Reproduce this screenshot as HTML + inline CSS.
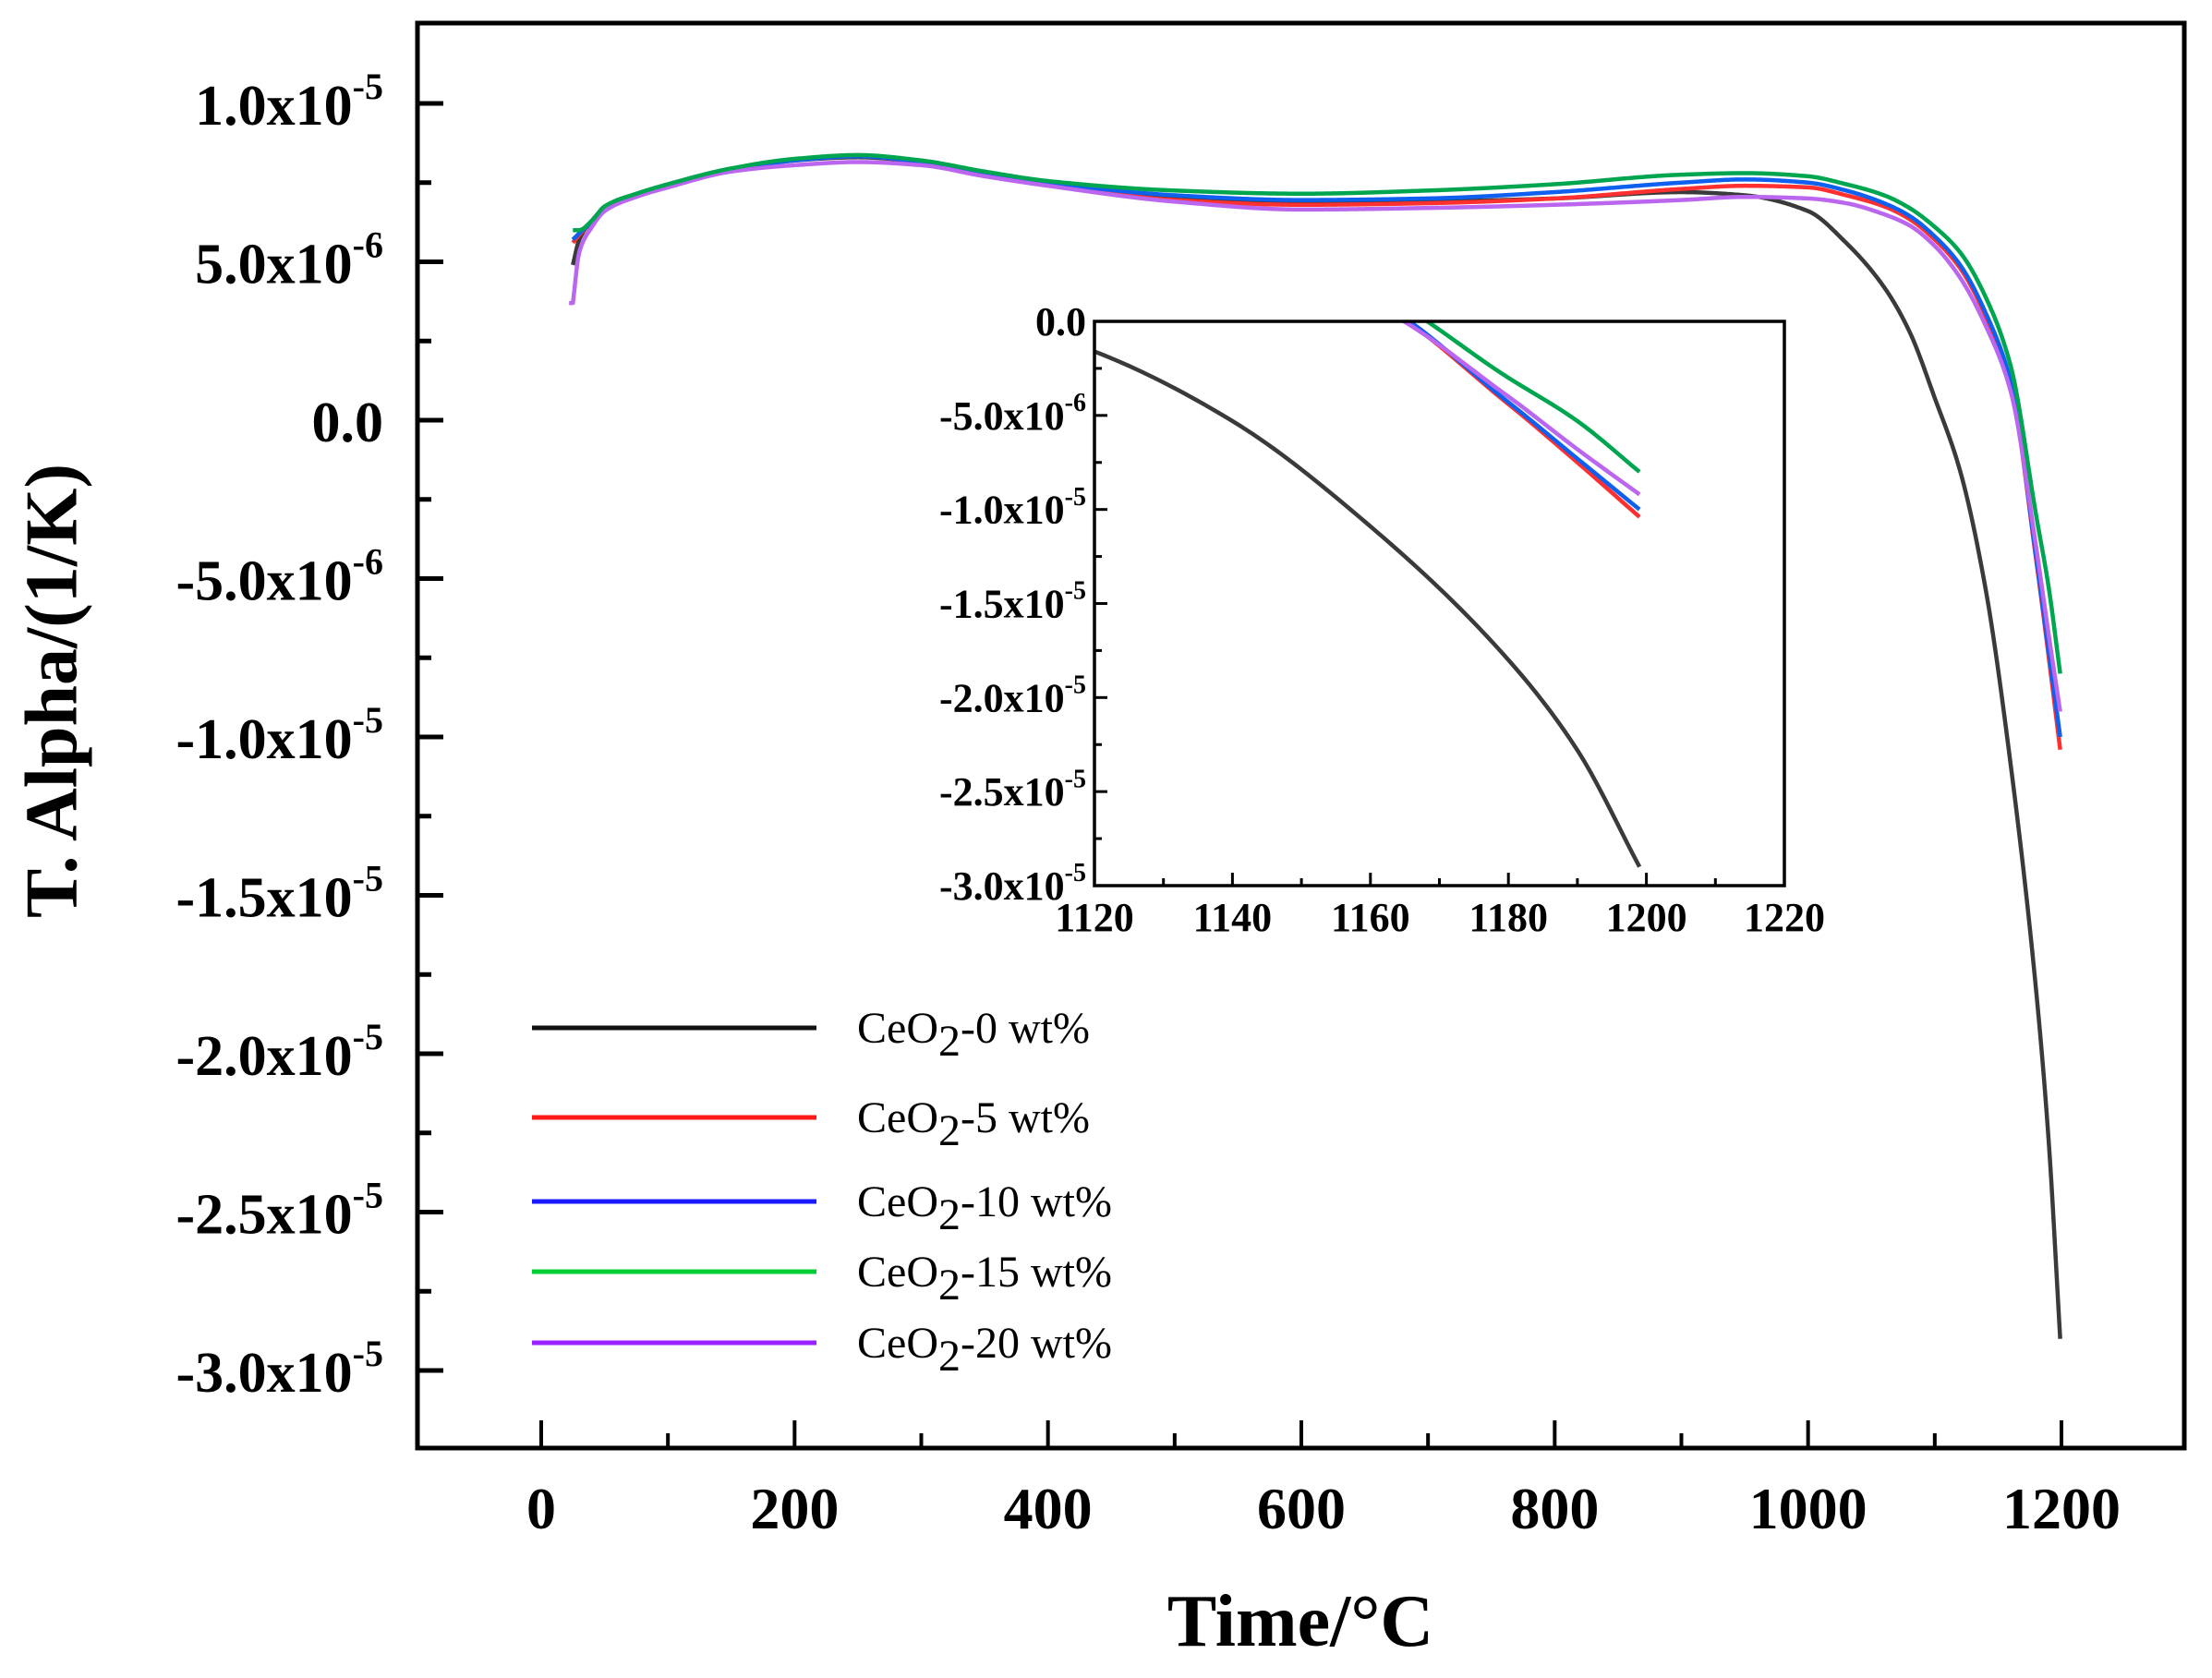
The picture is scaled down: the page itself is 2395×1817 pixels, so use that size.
<!DOCTYPE html>
<html><head><meta charset="utf-8"><style>
html,body{margin:0;padding:0;background:#fff;}
svg{display:block;font-family:"Liberation Serif","DejaVu Serif",serif;}
</style></head><body>
<svg id="chart" width="2395" height="1817" viewBox="0 0 2395 1817" xmlns="http://www.w3.org/2000/svg">
<defs>
<clipPath id="mainClip"><rect x="452" y="25" width="1913" height="1543"/></clipPath>
<clipPath id="insetClip"><rect x="1185" y="348" width="747" height="611"/></clipPath>
</defs>
<rect x="0" y="0" width="2395" height="1817" fill="#fff"/>
<g id="mainSeries" clip-path="url(#mainClip)"></g>
<rect x="1185" y="348" width="747" height="611" fill="#fff"/>
<g id="insetSeries" clip-path="url(#insetClip)"></g>
<g id="axes"></g>
<text x="64" y="748" transform="rotate(-90 64 748)" text-anchor="middle" dominant-baseline="middle" font-size="80" font-weight="bold">T. Alpha/(1/K)</text>
<text x="1408" y="1782" text-anchor="middle" font-size="80" font-weight="bold">Time/°C</text>
<g id="legend"></g>
</svg>
<script>
const temps = [25,30,40,50,75,100,150,200,250,300,350,400,500,600,700,800,900,950,1000,1030,1060,1080,1100,1120,1140,1160,1180,1190,1199];
const seriesNames = ["CeO2-0 wt%","CeO2-5 wt%","CeO2-10 wt%","CeO2-15 wt%","CeO2-20 wt%"];
const seriesColors = ["#3a3a3a","#ff3030","#1060f0","#00a550","#bb66ee"];
const legendColors = ["#111111","#ff1a1a","#1a1aff","#00cc33","#9a22ff"];
const blackVals = [4.9,5.7,6.3,6.7,7.1,7.4,7.9,8.2,8.3,8.15,7.8,7.5,7.05,6.85,6.9,7.0,7.2,7.1,6.6,5.6,4.2,2.8,0.7,-1.6,-5.3,-10.9,-18.0,-22.8,-29.0];
const redVals = [5.6,5.85,6.25,6.7,7.1,7.4,7.9,8.2,8.33,8.15,7.8,7.45,6.95,6.8,6.85,7.0,7.3,7.4,7.35,7.1,6.75,6.35,5.7,4.8,3.3,1.1,-4.4,-7.5,-10.4];
const blueVals = [5.7,5.9,6.25,6.7,7.1,7.4,7.9,8.2,8.33,8.15,7.8,7.5,7.1,6.95,7.0,7.2,7.5,7.6,7.5,7.25,6.85,6.45,5.8,4.9,3.4,1.2,-4.3,-7.3,-10.0];
const greenVals = [6.0,6.0,6.3,6.75,7.15,7.45,7.95,8.25,8.37,8.2,7.85,7.55,7.25,7.15,7.25,7.45,7.75,7.8,7.7,7.45,7.1,6.7,6.1,5.3,3.9,1.7,-3.0,-5.3,-8.0];
const purpleVals = [3.7,5.3,6.1,6.6,7.05,7.35,7.85,8.05,8.15,8.05,7.7,7.4,6.9,6.65,6.7,6.8,6.95,7.05,7.0,6.85,6.5,6.15,5.5,4.5,3.0,0.9,-4.0,-6.8,-9.2];
const mainYTicks = [10,5,0,-5,-10,-15,-20,-25,-30];
const mainYLabels = ["1.0x10|-5","5.0x10|-6","0.0","-5.0x10|-6","-1.0x10|-5","-1.5x10|-5","-2.0x10|-5","-2.5x10|-5","-3.0x10|-5"];
const mainXTicks = [0,200,400,600,800,1000,1200];
const insetXTicks = [1120,1140,1160,1180,1200,1220];
const insetYTicks = [0,-5,-10,-15,-20,-25,-30];
const insetYLabels = ["0.0","-5.0x10|-6","-1.0x10|-5","-1.5x10|-5","-2.0x10|-5","-2.5x10|-5","-3.0x10|-5"];

const NS = "http://www.w3.org/2000/svg";
const allVals = [blackVals, redVals, blueVals, greenVals, purpleVals];
const mx = t => 586 + (t - 0) * (2232 - 586) / 1200;
const my = v => 455 - v * 171.5 / 5;
const ix = t => 1185 + (t - 1120) * (1932 - 1185) / 100;
const iy = v => 348 - v * (959 - 348) / 30;

function el(tag, attrs, parent) {
  const e = document.createElementNS(NS, tag);
  for (const k in attrs) e.setAttribute(k, attrs[k]);
  parent.appendChild(e);
  return e;
}
// monotone cubic (Fritsch-Carlson) interpolation sampled densely
function monotoneSamples(xs, ys, step) {
  const n = xs.length, d = [], m = new Array(n);
  for (let i = 0; i < n - 1; i++) d.push((ys[i + 1] - ys[i]) / (xs[i + 1] - xs[i]));
  m[0] = d[0]; m[n - 1] = d[n - 2];
  for (let i = 1; i < n - 1; i++) {
    if (d[i - 1] * d[i] <= 0) m[i] = 0;
    else {
      const h0 = xs[i] - xs[i - 1], h1 = xs[i + 1] - xs[i];
      const w1 = 2 * h1 + h0, w2 = h1 + 2 * h0;
      m[i] = (w1 + w2) / (w1 / d[i - 1] + w2 / d[i]);
    }
  }
  const out = [];
  for (let i = 0; i < n - 1; i++) {
    const h = xs[i + 1] - xs[i];
    const k = Math.max(1, Math.ceil(h / step));
    for (let j = 0; j < k; j++) {
      const s = j / k, s2 = s * s, s3 = s2 * s;
      const y = (2 * s3 - 3 * s2 + 1) * ys[i] + (s3 - 2 * s2 + s) * h * m[i] + (-2 * s3 + 3 * s2) * ys[i + 1] + (s3 - s2) * h * m[i + 1];
      out.push([xs[i] + s * h, y]);
    }
  }
  out.push([xs[n - 1], ys[n - 1]]);
  return out;
}
function pathFrom(samples, fx, fy) {
  return samples.map((p, i) => (i ? "L" : "M") + fx(p[0]).toFixed(2) + "," + fy(p[1]).toFixed(2)).join(" ");
}
const mainG = document.getElementById("mainSeries");
const insetG = document.getElementById("insetSeries");
const order = [0, 1, 2, 4, 3];
order.forEach(si => {
  const vals = allVals[si];
  const smp = monotoneSamples(temps, vals, 1);
  let dM = pathFrom(smp, mx, my);
  if (si === 4) dM = "M" + mx(22).toFixed(2) + "," + my(vals[0]).toFixed(2) + " L" + dM.slice(1);
  const pm = el("path", {d: dM, fill: "none", stroke: seriesColors[si], "stroke-width": 4.5, "stroke-linejoin": "round"}, mainG);
  
  
  const pi = el("path", {d: pathFrom(smp.filter(p => p[0] >= 1100), ix, iy), fill: "none", stroke: seriesColors[si], "stroke-width": 4.5, "stroke-linejoin": "round"}, insetG);
  
  
});

const axes = document.getElementById("axes");
function label(x, y, str, size, supSize, parent, name) {
  const parts = str.split("|");
  const t = el("text", {x: x, y: y, "text-anchor": "end", "font-size": size, "font-weight": "bold"}, parent);
  
  
  t.textContent = parts[0];
  if (parts[1]) {
    const s = el("tspan", {"font-size": supSize, dy: -size * 0.45}, t);
    s.textContent = parts[1];
  }
  return t;
}
const frame = el("rect", {x: 452, y: 25, width: 1913, height: 1543, fill: "none", stroke: "#000", "stroke-width": 5}, axes);


for (let t = -100; t <= 1300; t += 100) {
  if (t < -99 || t > 1299) continue;
  const major = t % 200 === 0;
  const tk = el("line", {x1: mx(t), x2: mx(t), y1: 1568, y2: 1568 - (major ? 30 : 16), stroke: "#000", "stroke-width": 4}, axes);
  
  
}
mainXTicks.forEach(t => {
  const tx = el("text", {x: mx(t), y: 1655, "text-anchor": "middle", "font-size": 64, "font-weight": "bold"}, axes);
  
  
  tx.textContent = String(t);
});
for (let v = 12.5; v >= -32.5; v -= 2.5) {
  const major = Math.abs(v % 5) < 1e-9;
  if (my(v) < 30 || my(v) > 1565) continue;
  const tk = el("line", {x1: 452, x2: 452 + (major ? 28 : 15), y1: my(v), y2: my(v), stroke: "#000", "stroke-width": 5}, axes);
  
  
}
mainYTicks.forEach((v, i) => label(415, my(v) + 23, mainYLabels[i], 62, 40, axes, 'y-tick-label'));

const iframe = el("rect", {x: 1185, y: 348, width: 747, height: 611, fill: "none", stroke: "#000", "stroke-width": 3.5}, axes);


for (let t = 1120; t <= 1220; t += 10) {
  const major = t % 20 === 0;
  const tk = el("line", {x1: ix(t), x2: ix(t), y1: 959, y2: 959 - (major ? 14 : 8), stroke: "#000", "stroke-width": 3}, axes);
  
  
}
insetXTicks.forEach(t => {
  const tx = el("text", {x: ix(t), y: 1008, "text-anchor": "middle", "font-size": 44, "font-weight": "bold"}, axes);
  
  
  tx.textContent = String(t);
});
for (let v = 0; v >= -30; v -= 2.5) {
  const major = Math.abs(v % 5) < 1e-9;
  const tk = el("line", {x1: 1185, x2: 1185 + (major ? 14 : 8), y1: iy(v), y2: iy(v), stroke: "#000", "stroke-width": 3}, axes);
  
  
}
insetYTicks.forEach((v, i) => label(1176, iy(v) + 15, insetYLabels[i], 44, 28, axes, 'inset-y-tick-label'));

const legend = document.getElementById("legend");
const legendY = [1113, 1210, 1301, 1377, 1454];
const legendNums = ["0", "5", "10", "15", "20"];
legendY.forEach((y, i) => {
  const ln = el("line", {x1: 576, x2: 884, y1: y, y2: y, stroke: legendColors[i], "stroke-width": 5}, legend);
  
  
  const tx = el("text", {x: 928, y: y + 16, "font-size": 48}, legend);
  
  
  const a = el("tspan", {}, tx); a.textContent = "CeO";
  const b = el("tspan", {dy: 14}, tx); b.textContent = "2";
  const c = el("tspan", {dy: -14}, tx); c.textContent = "-" + legendNums[i] + " wt%";
});
</script>
</body></html>
